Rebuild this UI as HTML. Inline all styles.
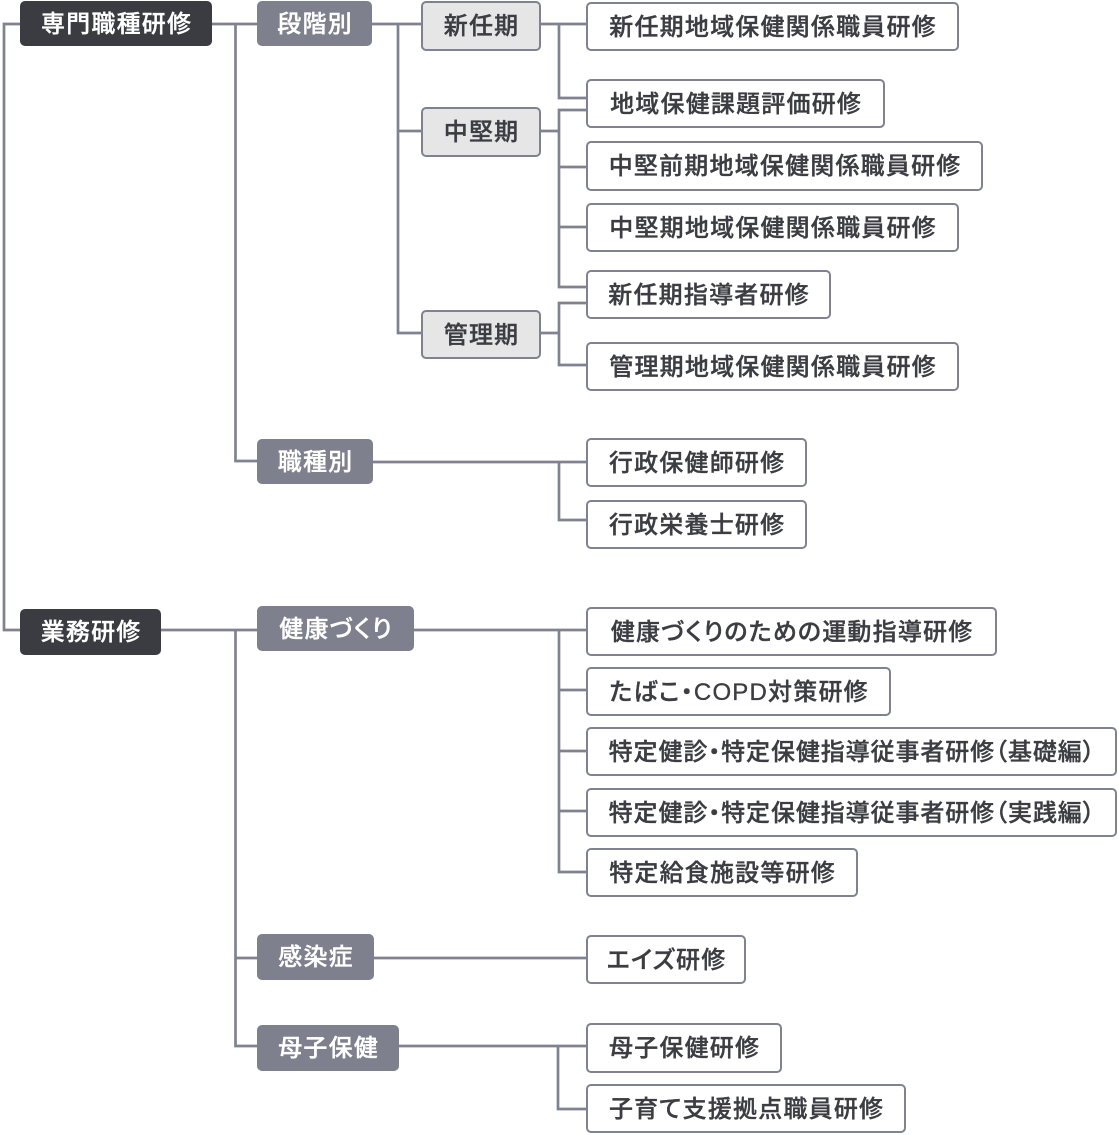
<!DOCTYPE html>
<html lang="ja">
<head>
<meta charset="utf-8">
<style>
  html, body { margin:0; padding:0; background:#ffffff; }
  body { width:1119px; height:1135px; position:relative; overflow:hidden;
         font-family:"Liberation Sans","Noto Sans CJK JP",sans-serif; }
  svg.lines { position:absolute; left:0; top:0; }
  .b { position:absolute; box-sizing:border-box; display:flex; align-items:center; justify-content:center;
       white-space:nowrap; font-size:24px; font-weight:500; letter-spacing:1.2px;
       font-feature-settings:"palt"; line-height:1; border-radius:5px;
       -webkit-text-stroke:0.35px currentColor; }
  .b span { margin-right:-1.2px; position:relative; top:1px; }
  .dk { background:#3b3c42; color:#ffffff; }
  .gy { background:#7e818d; color:#ffffff; }
  .lt { background:#e6e6e6; color:#3c3d42; border:2.5px solid #80838f; }
  .wh { background:#ffffff; color:#3c3d42; border:2.5px solid #80838f; }
  .tight { letter-spacing:0.9px; }
</style>
</head>
<body>
<svg class="lines" width="1119" height="1135" viewBox="0 0 1119 1135">
  <g fill="none" stroke="#80838f" stroke-width="2.7" stroke-linejoin="miter" stroke-linecap="butt">
    <path d="M20 24 H4 V630 H20"/>
    <path d="M212 24 H257"/>
    <path d="M235.5 24 V461 H257"/>
    <path d="M372 24 H421"/>
    <path d="M398 24 V333 H421"/>
    <path d="M398 131 H421"/>
    <path d="M541 24 H586"/>
    <path d="M559 24 V98 H586"/>
    <path d="M541 131 H559"/>
    <path d="M586 110 H559 V287 H586"/>
    <path d="M559 167 H586"/>
    <path d="M559 227 H586"/>
    <path d="M541 333 H559"/>
    <path d="M586 303 H559 V365 H586"/>
    <path d="M373 462 H586"/>
    <path d="M559 462 V520 H586"/>
    <path d="M161 630 H257"/>
    <path d="M235.5 630 V1046 H257"/>
    <path d="M235.5 958 H257"/>
    <path d="M414 630 H586"/>
    <path d="M559 630 V872 H586"/>
    <path d="M559 690 H586"/>
    <path d="M559 751 H586"/>
    <path d="M559 811 H586"/>
    <path d="M374 958 H586"/>
    <path d="M399 1046 H586"/>
    <path d="M558 1046 V1109 H586"/>
  </g>
</svg>

<!-- Level 1 -->
<div class="b dk" style="left:20px;top:1px;width:192px;height:45px;"><span>専門職種研修</span></div>
<div class="b dk" style="left:20px;top:609px;width:141px;height:46px;"><span>業務研修</span></div>

<!-- Level 2 -->
<div class="b gy" style="left:257px;top:1px;width:115px;height:45px;"><span>段階別</span></div>
<div class="b gy" style="left:257px;top:439px;width:116px;height:45px;"><span>職種別</span></div>
<div class="b gy" style="left:257px;top:606px;width:157px;height:45px;"><span>健康づくり</span></div>
<div class="b gy" style="left:257px;top:934px;width:117px;height:46px;"><span>感染症</span></div>
<div class="b gy" style="left:257px;top:1025px;width:142px;height:46px;"><span>母子保健</span></div>

<!-- Level 3 -->
<div class="b lt" style="left:421px;top:1px;width:120px;height:50px;"><span>新任期</span></div>
<div class="b lt" style="left:421px;top:107px;width:120px;height:50px;"><span>中堅期</span></div>
<div class="b lt" style="left:421px;top:310px;width:120px;height:49px;"><span>管理期</span></div>

<!-- Leaves -->
<div class="b wh" style="left:586px;top:2px;width:373px;height:49px;"><span>新任期地域保健関係職員研修</span></div>
<div class="b wh" style="left:586px;top:79px;width:299px;height:49px;"><span>地域保健課題評価研修</span></div>
<div class="b wh" style="left:586px;top:141px;width:397px;height:50px;"><span>中堅前期地域保健関係職員研修</span></div>
<div class="b wh" style="left:586px;top:203px;width:373px;height:49px;"><span>中堅期地域保健関係職員研修</span></div>
<div class="b wh" style="left:586px;top:270px;width:245px;height:49px;"><span>新任期指導者研修</span></div>
<div class="b wh" style="left:586px;top:342px;width:373px;height:49px;"><span>管理期地域保健関係職員研修</span></div>
<div class="b wh" style="left:586px;top:438px;width:221px;height:49px;"><span>行政保健師研修</span></div>
<div class="b wh" style="left:586px;top:500px;width:221px;height:49px;"><span>行政栄養士研修</span></div>
<div class="b wh" style="left:586px;top:607px;width:411px;height:49px;"><span>健康づくりのための運動指導研修</span></div>
<div class="b wh" style="left:586px;top:667px;width:305px;height:49px;"><span>たばこ・COPD対策研修</span></div>
<div class="b wh tight" style="left:586px;top:727px;width:531px;height:49px;"><span>特定健診・特定保健指導従事者研修（基礎編）</span></div>
<div class="b wh tight" style="left:586px;top:788px;width:531px;height:49px;"><span>特定健診・特定保健指導従事者研修（実践編）</span></div>
<div class="b wh" style="left:586px;top:848px;width:272px;height:49px;"><span>特定給食施設等研修</span></div>
<div class="b wh" style="left:586px;top:935px;width:160px;height:49px;"><span>エイズ研修</span></div>
<div class="b wh" style="left:586px;top:1023px;width:196px;height:50px;"><span>母子保健研修</span></div>
<div class="b wh" style="left:586px;top:1084px;width:320px;height:49px;"><span>子育て支援拠点職員研修</span></div>
</body>
</html>
